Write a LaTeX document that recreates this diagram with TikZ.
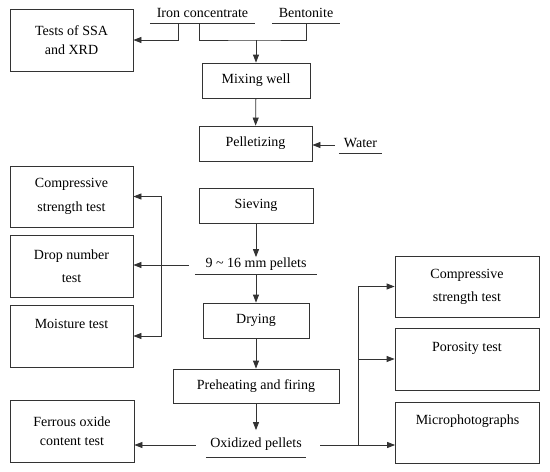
\documentclass[tikz,border=0pt]{standalone}
\usepackage{fontspec}
\setmainfont{Liberation Serif}
\usetikzlibrary{arrows.meta}

\begin{document}
\begin{tikzpicture}[x=1pt,y=-1pt,
  box/.style={draw=black!80, line width=0.8pt, align=center, inner sep=0pt, font=\fontsize{14}{19}\selectfont},
  topbox/.style={box, text height=10pt, text depth=26pt},
  ulabel/.style={inner sep=0pt, anchor=south, text height=10pt, text depth=5.5pt, font=\fontsize{14}{19}\selectfont},
  line/.style={draw=black!80, line width=0.8pt},
  arr/.style={line, -{Triangle[length=8pt,width=6pt]}},
  arrs/.style={line, {Triangle[length=8pt,width=6pt]}-{Triangle[length=8pt,width=6pt]}}]
  \useasboundingbox (0,0) rectangle (550,472);
  % main line
  \node[ulabel, minimum width=105pt] (iron) at (202.5,23) {Iron concentrate};
  \node[ulabel, minimum width=68pt] (bent) at (306,23) {Bentonite};
  \node[box, minimum width=108pt, minimum height=35pt] (mix) at (256,80.5) {Mixing well};
  \node[box, minimum width=113pt, minimum height=35pt] (pel) at (255.5,143.5) {Pelletizing};
  \node[ulabel, minimum width=43pt] (water) at (360.5,153) {Water};
  \node[box, minimum width=114pt, minimum height=35pt] (siev) at (256,205.5) {Sieving};
  \node[ulabel, minimum width=122pt, text depth=6.5pt] (pellets) at (256,274) {9 \char"007E\ 16 mm pellets};
  \node[box, minimum width=106pt, minimum height=35pt] (dry) at (256,320.5) {Drying};
  \node[box, minimum width=166pt, minimum height=34pt] (pre) at (256,386) {Preheating and firing};
  \node[ulabel, minimum width=100pt, text depth=9.5pt] (oxi) at (256,457) {Oxidized pellets};
  % tests
  \node[box, minimum width=123pt, minimum height=62pt] (ssa) at (71.5,40) {Tests of SSA\\and XRD};
  \node[box, minimum width=123pt, minimum height=61pt] (comp) at (71.5,196.5) {Compressive\\[5pt]strength test};
  \node[box, minimum width=123pt, minimum height=62pt] (drop) at (71.5,266) {Drop number\\[4pt]test};
  \node[topbox, minimum width=123pt, minimum height=62pt] (moist) at (71.5,336) {Moisture test};
  \node[box, minimum width=124pt, minimum height=62pt] (ferr) at (72,431) {Ferrous oxide\\content test};
  \node[box, minimum width=144pt, minimum height=61pt] (ocomp) at (467,286.5) {Compressive\\[4pt]strength test};
  \node[topbox, minimum width=144pt, minimum height=62pt] (poro) at (467,359) {Porosity test};
  \node[topbox, minimum width=144pt, minimum height=61pt] (micro) at (467.5,432.5) {Microphotographs};

  \foreach \n in {iron,bent,water,pellets,oxi}
    \draw[line] (\n.south west) -- (\n.south east);

  \coordinate (mixin) at (mix.north |- ssa.east);
  \draw[arr] ([xshift=29pt]iron.south west) |- (ssa.east);
  \draw[line] ([xshift=50pt]iron.south west) |- (mixin) -| (bent.south);
  \draw[arr] (mixin) -- (mix);
  \draw[arr] (mix) -- (pel);
  \draw[arr] ([xshift=-4pt]water.mid west) -- (water.mid west -| pel.east);
  \draw[arr] (siev) -- (pellets);
  \draw[arr] ([xshift=-6pt]pellets.mid west) -- (pellets.mid west -| drop.east);
  \draw[arrs] (comp.east) -- ++(28,0) |- (moist.east);
  \draw[arr] (pellets) -- (dry);
  \draw[arr] (dry) -- (pre);
  \draw[arr] (pre) -- ([yshift=7pt]oxi.north);
  \draw[arr] ([xshift=-10pt]oxi.mid west) -- (oxi.mid west -| ferr.east);
  \coordinate (split) at ([xshift=52pt]oxi.mid east);
  \draw[arr] ([xshift=14pt]oxi.mid east) -- (oxi.mid east -| micro.west);
  \draw[arr] (split) |- (ocomp.west);
  \draw[arr] (split |- poro.west) -- (poro.west);
\end{tikzpicture}
\end{document}
